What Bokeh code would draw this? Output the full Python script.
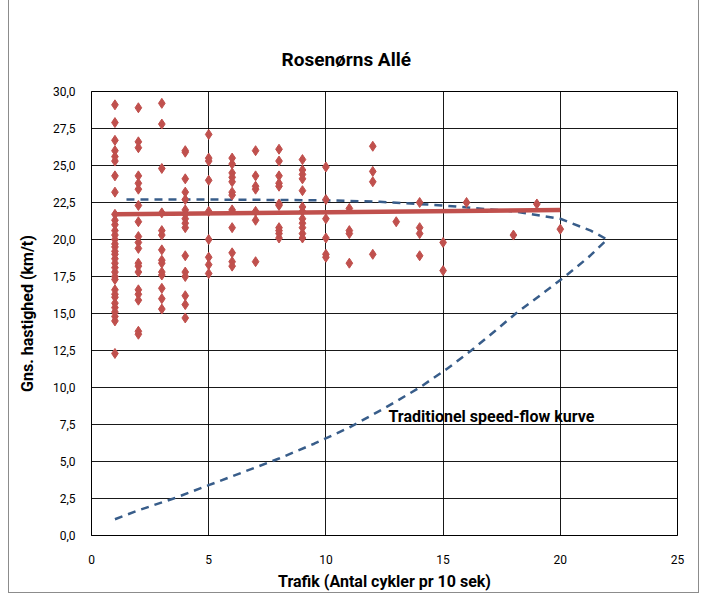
from bokeh.plotting import figure
from bokeh.models import FixedTicker, CustomJSTickFormatter, Range1d, Label
from bokeh.embed import file_html
from bokeh.resources import INLINE

# ---- data ----
speed_by_traffic = {
    1: [29.1, 27.9, 26.7, 26.0, 25.6, 25.3, 24.3, 23.2, 21.7, 21.3, 21.0, 20.6,
        20.3, 20.0, 19.7, 19.5, 19.2, 19.0, 18.7, 18.4, 18.1, 17.8, 17.5, 17.3,
        16.6, 16.3, 16.1, 15.7, 15.4, 15.1, 14.8, 14.5, 12.3],
    2: [28.9, 26.6, 26.2, 24.3, 23.8, 23.4, 22.3, 21.2, 20.2, 19.8, 19.4, 18.4,
        18.2, 17.8, 16.6, 16.3, 15.9, 13.8, 13.6],
    3: [29.2, 27.8, 24.8, 21.8, 20.6, 20.3, 19.3, 18.6, 18.4, 17.8, 17.6, 16.7,
        16.0, 15.3],
    4: [26.0, 25.9, 24.1, 23.2, 22.7, 22.0, 21.7, 21.4, 21.1, 20.8, 18.9, 17.8,
        17.5, 16.2, 15.6, 14.7],
    5: [27.1, 25.5, 25.3, 24.0, 21.9, 20.0, 18.8, 18.3, 17.7],
    6: [25.5, 25.1, 24.5, 24.2, 23.9, 23.2, 23.0, 22.0, 20.8, 19.1, 18.5, 18.2],
    7: [26.0, 24.3, 23.6, 23.4, 21.9, 21.3, 18.5],
    8: [26.1, 25.3, 24.3, 23.8, 23.6, 22.4, 22.3, 20.8, 20.6, 20.4, 20.1],
    9: [25.4, 24.7, 24.4, 24.1, 23.3, 22.2, 21.9, 21.4, 21.1, 20.8, 20.4, 20.1],
    10: [24.9, 22.7, 21.4, 20.1, 19.0, 18.8],
    11: [22.1, 20.6, 20.4, 18.4],
    12: [26.3, 24.6, 23.9, 19.0],
    13: [21.2],
    14: [22.5, 20.8, 20.4, 18.9],
    15: [19.8, 17.9],
    16: [22.5],
    18: [20.3],
    19: [22.4],
    20: [20.7],
}
traffic = [t for t, vs in speed_by_traffic.items() for _ in vs]
speed = [v for vs in speed_by_traffic.values() for v in vs]

trend_x = [1, 20]
trend_y = [21.7, 22.0]

curve_x = [1.0, 2.0, 3.5, 5.0, 6.5, 8.0, 9.5, 11.0, 12.5, 14.0, 15.2, 16.2,
           17.2, 18.1, 19.2, 20.2, 21.2, 22.0, 21.3, 20.0, 18.0, 15.0, 12.3,
           10.0, 5.0, 1.3]
curve_y = [1.1, 1.7, 2.5, 3.4, 4.3, 5.2, 6.2, 7.3, 8.6, 10.0, 11.3, 12.5,
           13.8, 15.0, 16.3, 17.5, 18.8, 20.0, 20.6, 21.4, 21.9, 22.3, 22.55,
           22.65, 22.7, 22.7]

x_ticks = [0, 5, 10, 15, 20, 25]
y_ticks = [0, 2.5, 5, 7.5, 10, 12.5, 15, 17.5, 20, 22.5, 25, 27.5, 30]

title_text = "Rosenørns Allé"
x_label = "Trafik (Antal cykler pr 10 sek)"
y_label = "Gns. hastighed (km/t)"
curve_label = "Traditionel speed-flow kurve"

FONT = "Roboto"

# canvas starts at page x=9 (8px margin + 1px border)
p = figure(width=691, height=593, output_backend="svg", toolbar_location=None,
           x_range=Range1d(0, 25), y_range=Range1d(0, 30),
           min_border_left=82, min_border_right=23,
           min_border_top=91, min_border_bottom=57,
           margin=(0, 0, 0, 8))
p.styles = {"border-left": "1px solid #8c8c8c",
            "border-right": "1px solid #8c8c8c",
            "border-bottom": "1px solid #8c8c8c"}

p.title.text = title_text
p.title.text_font = FONT
p.title.text_font_size = "19px"
p.title.text_font_style = "bold"
p.title.text_color = "black"
p.title.align = "left"
p.title.offset = 190
p.title.standoff = 42

p.background_fill_color = "white"
p.border_fill_color = "white"
p.outline_line_color = "black"
p.outline_line_width = 1

# grid
p.xgrid.ticker = FixedTicker(ticks=x_ticks)
p.ygrid.ticker = FixedTicker(ticks=y_ticks)
for g in (p.xgrid, p.ygrid):
    g.grid_line_color = "black"
    g.grid_line_width = 1
    g.grid_line_alpha = 0.9

# axes
p.xaxis.ticker = FixedTicker(ticks=x_ticks)
p.yaxis.ticker = FixedTicker(ticks=y_ticks)
p.yaxis.formatter = CustomJSTickFormatter(code="return tick.toFixed(1).replace('.', ',');")
for ax in (p.xaxis, p.yaxis):
    ax.axis_line_color = "black"
    ax.major_tick_line_color = None
    ax.minor_tick_line_color = None
    ax.major_label_text_font = FONT
    ax.major_label_text_font_size = "12px"
    ax.major_label_text_color = "black"
    ax.axis_label_text_font = FONT
    ax.axis_label_text_font_size = "16px"
    ax.axis_label_text_font_style = "bold"
    ax.axis_label_text_color = "black"
p.xaxis.axis_label = x_label
p.yaxis.axis_label = y_label
p.xaxis.major_label_standoff = 13
p.xaxis.axis_label_standoff = 5
p.yaxis.major_label_standoff = 10
p.yaxis.axis_label_standoff = 13

# data
p.line(curve_x, curve_y, line_color="#385D8A", line_width=2.5, line_dash="8 6")
p.scatter(traffic, speed, marker="diamond", size=10, fill_color="#C0504D",
          line_color="#C0504D")
p.line(trend_x, trend_y, line_color="#C0504D", line_width=4.5)

p.add_layout(Label(x=12.67, y=8.02, text=curve_label, text_font=FONT,
                   text_font_size="16px", text_font_style="bold",
                   text_color="black", text_baseline="middle"))

open("out.html", "w").write(file_html(p, INLINE))
